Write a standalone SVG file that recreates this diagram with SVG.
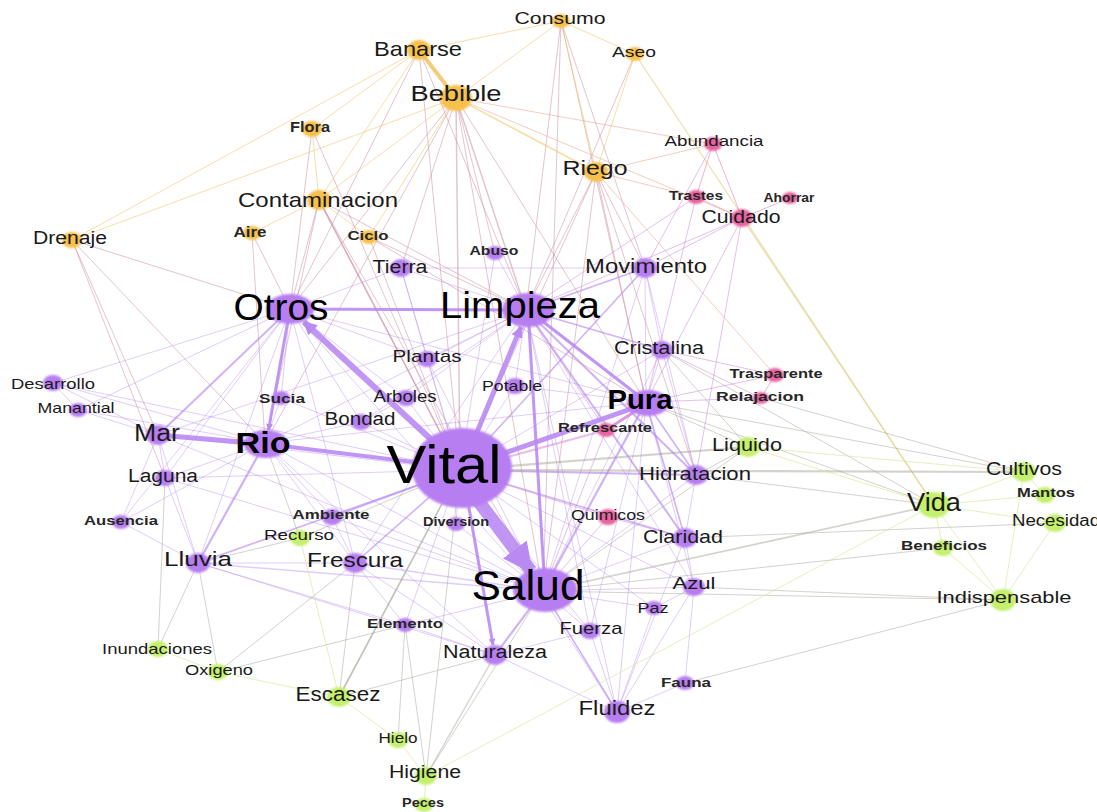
<svg xmlns="http://www.w3.org/2000/svg" width="1097" height="812" viewBox="0 0 1097 812">
<defs>
<style>
.pp{stroke:#b487f0;stroke-opacity:.42;stroke-width:1}
.pm{stroke:#b07ff0;stroke-opacity:.6;stroke-width:1.6}
.pt{stroke:#b98af2;stroke-opacity:.9;fill:none}
.pk{stroke:#d07fd4;stroke-opacity:.5;stroke-width:1}
.kk{stroke:#e57fb4;stroke-opacity:.6;stroke-width:1}
.op{stroke:#c98a9e;stroke-opacity:.5;stroke-width:1}
.oo{stroke:#f1c261;stroke-opacity:.55;stroke-width:1}
.ok{stroke:#eaa48c;stroke-opacity:.55;stroke-width:1}
.og{stroke:#ddcc78;stroke-opacity:.6;stroke-width:1.2}
.pg{stroke:#aaa698;stroke-opacity:.5;stroke-width:1}
.gg{stroke:#cde78f;stroke-opacity:.6;stroke-width:1}
ellipse{filter:url(#soft)}
.cP{fill:#b77ef2}
.cO{fill:#f6c04c}
.cK{fill:#e8649f}
.cG{fill:#c4f06c}
text{font-family:"Liberation Sans",Arial,sans-serif;fill:#1a1a1a;text-anchor:middle}
.b{font-weight:bold;fill:#262626}
.big{fill:#000}
</style>
<filter id="soft" x="-30%" y="-30%" width="160%" height="160%"><feGaussianBlur stdDeviation="0.9"/></filter>
<marker id="arr" viewBox="0 0 10 10" refX="9" refY="5" markerWidth="2.3" markerHeight="2.3" orient="auto" markerUnits="strokeWidth"><path d="M0,0 L10,5 L0,10 z" fill="#b98af2"/></marker>
</defs>
<rect width="1097" height="812" fill="#ffffff"/>
<g id="connectors">
<line class="pp" x1="460" y1="470" x2="427" y2="359"/>
<line class="pp" x1="460" y1="470" x2="406" y2="398"/>
<line class="pp" x1="460" y1="470" x2="361" y2="422"/>
<line class="pp" x1="460" y1="470" x2="515" y2="386"/>
<line class="pp" x1="460" y1="470" x2="694" y2="587"/>
<line class="pp" x1="460" y1="470" x2="456" y2="524"/>
<line class="pp" x1="460" y1="470" x2="662" y2="350"/>
<line class="pp" x1="460" y1="470" x2="158" y2="435"/>
<line class="pp" x1="460" y1="470" x2="165" y2="478"/>
<line class="pp" x1="460" y1="470" x2="590" y2="631"/>
<line class="pp" x1="460" y1="470" x2="617" y2="712"/>
<line class="pp" x1="460" y1="470" x2="401" y2="268"/>
<line class="pp" x1="460" y1="470" x2="495" y2="253"/>
<line class="pp" x1="460" y1="470" x2="281" y2="398"/>
<line class="pp" x1="460" y1="470" x2="405" y2="625"/>
<line class="pp" x1="460" y1="470" x2="654" y2="608"/>
<line class="pp" x1="460" y1="470" x2="53" y2="383"/>
<line class="pp" x1="290" y1="309" x2="281" y2="398"/>
<line class="pp" x1="290" y1="309" x2="53" y2="383"/>
<line class="pp" x1="290" y1="309" x2="78" y2="410"/>
<line class="pp" x1="290" y1="309" x2="427" y2="359"/>
<line class="pp" x1="290" y1="309" x2="361" y2="422"/>
<line class="pp" x1="290" y1="309" x2="401" y2="268"/>
<line class="pp" x1="290" y1="309" x2="198" y2="563"/>
<line class="pp" x1="290" y1="309" x2="540" y2="592"/>
<line class="pp" x1="290" y1="309" x2="645" y2="402"/>
<line class="pp" x1="290" y1="309" x2="406" y2="398"/>
<line class="pp" x1="290" y1="309" x2="165" y2="478"/>
<line class="pp" x1="290" y1="309" x2="121" y2="522"/>
<line class="pp" x1="290" y1="309" x2="355" y2="563"/>
<line class="pp" x1="526" y1="310" x2="515" y2="386"/>
<line class="pp" x1="526" y1="310" x2="401" y2="268"/>
<line class="pp" x1="526" y1="310" x2="495" y2="253"/>
<line class="pp" x1="526" y1="310" x2="427" y2="359"/>
<line class="pp" x1="526" y1="310" x2="694" y2="587"/>
<line class="pp" x1="526" y1="310" x2="265" y2="443"/>
<line class="pp" x1="526" y1="310" x2="355" y2="563"/>
<line class="pp" x1="526" y1="310" x2="406" y2="398"/>
<line class="pp" x1="526" y1="310" x2="158" y2="435"/>
<line class="pp" x1="526" y1="310" x2="617" y2="712"/>
<line class="pp" x1="526" y1="310" x2="590" y2="631"/>
<line class="pp" x1="526" y1="310" x2="361" y2="422"/>
<line class="pp" x1="543" y1="591" x2="590" y2="631"/>
<line class="pp" x1="543" y1="591" x2="654" y2="608"/>
<line class="pp" x1="543" y1="591" x2="694" y2="587"/>
<line class="pp" x1="543" y1="591" x2="685" y2="538"/>
<line class="pp" x1="543" y1="591" x2="696" y2="475"/>
<line class="pp" x1="543" y1="591" x2="405" y2="625"/>
<line class="pp" x1="543" y1="591" x2="265" y2="443"/>
<line class="pp" x1="543" y1="591" x2="332" y2="517"/>
<line class="pp" x1="543" y1="591" x2="645" y2="268"/>
<line class="pp" x1="543" y1="591" x2="662" y2="350"/>
<line class="pp" x1="543" y1="591" x2="456" y2="524"/>
<line class="pp" x1="543" y1="591" x2="158" y2="435"/>
<line class="pp" x1="543" y1="591" x2="165" y2="478"/>
<line class="pp" x1="543" y1="591" x2="427" y2="359"/>
<line class="pp" x1="646" y1="402" x2="662" y2="350"/>
<line class="pp" x1="646" y1="402" x2="645" y2="268"/>
<line class="pp" x1="646" y1="402" x2="694" y2="587"/>
<line class="pp" x1="646" y1="402" x2="590" y2="631"/>
<line class="pp" x1="646" y1="402" x2="617" y2="712"/>
<line class="pp" x1="646" y1="402" x2="515" y2="386"/>
<line class="pp" x1="646" y1="402" x2="265" y2="443"/>
<line class="pp" x1="265" y1="443" x2="281" y2="398"/>
<line class="pp" x1="265" y1="443" x2="165" y2="478"/>
<line class="pp" x1="265" y1="443" x2="355" y2="563"/>
<line class="pp" x1="265" y1="443" x2="332" y2="517"/>
<line class="pp" x1="265" y1="443" x2="361" y2="422"/>
<line class="pp" x1="265" y1="443" x2="53" y2="383"/>
<line class="pp" x1="265" y1="443" x2="78" y2="410"/>
<line class="pp" x1="265" y1="443" x2="121" y2="522"/>
<line class="pp" x1="265" y1="443" x2="495" y2="655"/>
<line class="pp" x1="158" y1="435" x2="78" y2="410"/>
<line class="pp" x1="158" y1="435" x2="53" y2="383"/>
<line class="pp" x1="158" y1="435" x2="165" y2="478"/>
<line class="pp" x1="158" y1="435" x2="198" y2="563"/>
<line class="pp" x1="158" y1="435" x2="121" y2="522"/>
<line class="pp" x1="198" y1="563" x2="165" y2="478"/>
<line class="pp" x1="198" y1="563" x2="355" y2="563"/>
<line class="pp" x1="198" y1="563" x2="121" y2="522"/>
<line class="pp" x1="198" y1="563" x2="495" y2="655"/>
<line class="pp" x1="198" y1="563" x2="405" y2="625"/>
<line class="pp" x1="355" y1="563" x2="495" y2="655"/>
<line class="pp" x1="355" y1="563" x2="405" y2="625"/>
<line class="pp" x1="355" y1="563" x2="332" y2="517"/>
<line class="pp" x1="495" y1="655" x2="617" y2="712"/>
<line class="pp" x1="495" y1="655" x2="590" y2="631"/>
<line class="pp" x1="495" y1="655" x2="405" y2="625"/>
<line class="pp" x1="617" y1="712" x2="685" y2="683"/>
<line class="pp" x1="617" y1="712" x2="694" y2="587"/>
<line class="pp" x1="617" y1="712" x2="654" y2="608"/>
<line class="pp" x1="617" y1="712" x2="590" y2="631"/>
<line class="pp" x1="617" y1="712" x2="685" y2="538"/>
<line class="pp" x1="694" y1="587" x2="685" y2="683"/>
<line class="pp" x1="694" y1="587" x2="654" y2="608"/>
<line class="pp" x1="694" y1="587" x2="685" y2="538"/>
<line class="pp" x1="696" y1="475" x2="685" y2="538"/>
<line class="pp" x1="696" y1="475" x2="662" y2="350"/>
<line class="pp" x1="696" y1="475" x2="645" y2="268"/>
<line class="pp" x1="645" y1="268" x2="662" y2="350"/>
<line class="pp" x1="645" y1="268" x2="401" y2="268"/>
<line class="pp" x1="427" y1="359" x2="401" y2="268"/>
<line class="pp" x1="406" y1="398" x2="361" y2="422"/>
<line class="pp" x1="53" y1="383" x2="78" y2="410"/>
<line class="pp" x1="355" y1="563" x2="543" y2="591" style="stroke-width:1.5"/>
<line class="pp" x1="198" y1="563" x2="543" y2="591" style="stroke-width:1.5"/>
<line class="pm" x1="460" y1="470" x2="696" y2="475" style="stroke-width:2"/>
<line class="pm" x1="460" y1="470" x2="685" y2="538"/>
<line class="pm" x1="460" y1="470" x2="355" y2="563"/>
<line class="pm" x1="460" y1="470" x2="198" y2="563"/>
<line class="pm" x1="460" y1="470" x2="332" y2="517"/>
<line class="pm" x1="460" y1="470" x2="645" y2="268"/>
<line class="pm" x1="526" y1="310" x2="645" y2="268"/>
<line class="pm" x1="526" y1="310" x2="662" y2="350"/>
<line class="pm" x1="526" y1="310" x2="685" y2="538" style="stroke-width:2"/>
<line class="pm" x1="526" y1="310" x2="696" y2="475" style="stroke-width:2"/>
<line class="pm" x1="646" y1="402" x2="696" y2="475"/>
<line class="pm" x1="646" y1="402" x2="685" y2="538"/>
<line class="pm" x1="543" y1="591" x2="617" y2="712"/>
<line class="pm" x1="543" y1="591" x2="646" y2="402" style="stroke-width:2.2"/>
<line class="pm" x1="265" y1="443" x2="198" y2="563" style="stroke-width:2.2"/>
<line class="pm" x1="290" y1="309" x2="158" y2="435" style="stroke-width:2"/>
<line class="pm" x1="543" y1="591" x2="495" y2="655" style="stroke-width:2.2"/>
<line class="pk" x1="460" y1="470" x2="606" y2="430" style="stroke-width:2"/>
<line class="pk" x1="646" y1="402" x2="761" y2="398"/>
<line class="pk" x1="646" y1="402" x2="775" y2="375"/>
<line class="pk" x1="526" y1="310" x2="742" y2="218"/>
<line class="pk" x1="645" y1="268" x2="742" y2="218"/>
<line class="pk" x1="543" y1="591" x2="608" y2="517"/>
<line class="pk" x1="460" y1="470" x2="608" y2="517"/>
<line class="pk" x1="608" y1="517" x2="685" y2="538"/>
<line class="pk" x1="606" y1="430" x2="543" y2="591"/>
<line class="pk" x1="662" y1="350" x2="775" y2="375"/>
<line class="pk" x1="713" y1="144" x2="645" y2="268"/>
<line class="pk" x1="696" y1="197" x2="646" y2="402"/>
<line class="pk" x1="696" y1="197" x2="526" y2="310"/>
<line class="pk" x1="742" y1="218" x2="696" y2="475"/>
<line class="pk" x1="606" y1="430" x2="526" y2="310"/>
<line class="pk" x1="761" y1="398" x2="662" y2="350"/>
<line class="pk" x1="742" y1="218" x2="646" y2="402"/>
<line class="kk" x1="713" y1="144" x2="696" y2="197"/>
<line class="kk" x1="713" y1="144" x2="742" y2="218"/>
<line class="kk" x1="696" y1="197" x2="742" y2="218"/>
<line class="kk" x1="790" y1="198" x2="742" y2="218"/>
<line class="kk" x1="775" y1="375" x2="761" y2="398"/>
<line class="op" x1="456" y1="98" x2="526" y2="310" style="stroke-width:1.5"/>
<line class="op" x1="456" y1="98" x2="460" y2="470" style="stroke-width:1.5"/>
<line class="op" x1="456" y1="98" x2="290" y2="309"/>
<line class="op" x1="456" y1="98" x2="543" y2="591"/>
<line class="op" x1="456" y1="98" x2="646" y2="402"/>
<line class="op" x1="456" y1="98" x2="265" y2="443"/>
<line class="op" x1="456" y1="98" x2="495" y2="253"/>
<line class="op" x1="456" y1="98" x2="401" y2="268"/>
<line class="op" x1="419" y1="50" x2="290" y2="309"/>
<line class="op" x1="419" y1="50" x2="526" y2="310"/>
<line class="op" x1="419" y1="50" x2="460" y2="470"/>
<line class="op" x1="561" y1="21" x2="526" y2="310"/>
<line class="op" x1="561" y1="21" x2="645" y2="268"/>
<line class="op" x1="561" y1="21" x2="543" y2="591"/>
<line class="op" x1="561" y1="21" x2="646" y2="402"/>
<line class="op" x1="596" y1="172" x2="526" y2="310"/>
<line class="op" x1="596" y1="172" x2="646" y2="402"/>
<line class="op" x1="596" y1="172" x2="460" y2="470"/>
<line class="op" x1="596" y1="172" x2="543" y2="591"/>
<line class="op" x1="596" y1="172" x2="645" y2="268"/>
<line class="op" x1="596" y1="172" x2="696" y2="475"/>
<line class="op" x1="319" y1="200" x2="290" y2="309"/>
<line class="op" x1="319" y1="200" x2="460" y2="470" style="stroke-width:1.6;stroke-opacity:.7"/>
<line class="op" x1="319" y1="200" x2="265" y2="443"/>
<line class="op" x1="319" y1="200" x2="526" y2="310"/>
<line class="op" x1="319" y1="200" x2="543" y2="591"/>
<line class="op" x1="312" y1="129" x2="290" y2="309"/>
<line class="op" x1="312" y1="129" x2="460" y2="470"/>
<line class="op" x1="369" y1="237" x2="460" y2="470"/>
<line class="op" x1="369" y1="237" x2="526" y2="310"/>
<line class="op" x1="369" y1="237" x2="646" y2="402"/>
<line class="op" x1="252" y1="233" x2="290" y2="309"/>
<line class="op" x1="252" y1="233" x2="265" y2="443"/>
<line class="op" x1="72" y1="240" x2="158" y2="435"/>
<line class="op" x1="72" y1="240" x2="265" y2="443"/>
<line class="op" x1="72" y1="240" x2="290" y2="309"/>
<line class="op" x1="72" y1="240" x2="165" y2="478"/>
<line class="op" x1="635" y1="54" x2="526" y2="310"/>
<line class="oo" x1="419" y1="50" x2="456" y2="98" style="stroke-width:4;stroke-opacity:.85"/>
<line class="oo" x1="561" y1="21" x2="419" y2="50"/>
<line class="oo" x1="561" y1="21" x2="456" y2="98"/>
<line class="oo" x1="561" y1="21" x2="635" y2="54"/>
<line class="oo" x1="561" y1="21" x2="596" y2="172"/>
<line class="oo" x1="419" y1="50" x2="312" y2="129"/>
<line class="oo" x1="419" y1="50" x2="72" y2="240"/>
<line class="oo" x1="456" y1="98" x2="72" y2="240"/>
<line class="oo" x1="456" y1="98" x2="596" y2="172" style="stroke-width:1.6"/>
<line class="oo" x1="456" y1="98" x2="319" y2="200"/>
<line class="oo" x1="312" y1="129" x2="319" y2="200"/>
<line class="oo" x1="319" y1="200" x2="369" y2="237"/>
<line class="oo" x1="319" y1="200" x2="252" y2="233"/>
<line class="oo" x1="419" y1="50" x2="319" y2="200"/>
<line class="oo" x1="635" y1="54" x2="596" y2="172"/>
<line class="oo" x1="456" y1="98" x2="369" y2="237"/>
<line class="ok" x1="596" y1="172" x2="713" y2="144"/>
<line class="ok" x1="596" y1="172" x2="696" y2="197"/>
<line class="ok" x1="456" y1="98" x2="713" y2="144"/>
<line class="ok" x1="456" y1="98" x2="742" y2="218"/>
<line class="ok" x1="596" y1="172" x2="775" y2="375"/>
<line class="og" x1="635" y1="54" x2="934" y2="505"/>
<line class="og" x1="742" y1="218" x2="934" y2="505"/>
<line class="pg" x1="460" y1="470" x2="1024" y2="472" style="stroke-width:2.2"/>
<line class="pg" x1="460" y1="470" x2="748" y2="447" style="stroke-width:2.2"/>
<line class="pg" x1="543" y1="591" x2="934" y2="505" style="stroke-width:1.6"/>
<line class="pg" x1="748" y1="447" x2="646" y2="402"/>
<line class="pg" x1="748" y1="447" x2="696" y2="475"/>
<line class="pg" x1="748" y1="447" x2="543" y2="591"/>
<line class="pg" x1="646" y1="402" x2="934" y2="505"/>
<line class="pg" x1="662" y1="350" x2="934" y2="505"/>
<line class="pg" x1="543" y1="591" x2="1003" y2="600"/>
<line class="pg" x1="694" y1="587" x2="1003" y2="600"/>
<line class="pg" x1="685" y1="683" x2="1003" y2="600"/>
<line class="pg" x1="339" y1="697" x2="460" y2="470" style="stroke-width:1.6;stroke-opacity:.7"/>
<line class="pg" x1="339" y1="697" x2="355" y2="563"/>
<line class="pg" x1="339" y1="697" x2="495" y2="655"/>
<line class="pg" x1="426" y1="776" x2="495" y2="655" style="stroke-width:1.3"/>
<line class="pg" x1="426" y1="776" x2="405" y2="625"/>
<line class="pg" x1="398" y1="740" x2="405" y2="625"/>
<line class="pg" x1="158" y1="649" x2="198" y2="563"/>
<line class="pg" x1="158" y1="649" x2="165" y2="478"/>
<line class="pg" x1="218" y1="672" x2="198" y2="563"/>
<line class="pg" x1="218" y1="672" x2="405" y2="625"/>
<line class="pg" x1="218" y1="672" x2="355" y2="563"/>
<line class="pg" x1="300" y1="538" x2="460" y2="470"/>
<line class="pg" x1="300" y1="538" x2="198" y2="563"/>
<line class="pg" x1="300" y1="538" x2="265" y2="443"/>
<line class="pg" x1="943" y1="548" x2="543" y2="591"/>
<line class="pg" x1="1055" y1="523" x2="685" y2="538"/>
<line class="pg" x1="646" y1="402" x2="1024" y2="472"/>
<line class="pg" x1="426" y1="776" x2="460" y2="470"/>
<line class="pg" x1="761" y1="398" x2="1024" y2="472"/>
<line class="pg" x1="934" y1="505" x2="696" y2="475"/>
<line class="pg" x1="748" y1="447" x2="662" y2="350"/>
<line class="pg" x1="426" y1="776" x2="543" y2="591"/>
<line class="gg" x1="339" y1="697" x2="398" y2="740"/>
<line class="gg" x1="398" y1="740" x2="426" y2="776"/>
<line class="gg" x1="426" y1="776" x2="424" y2="805"/>
<line class="gg" x1="339" y1="697" x2="218" y2="672"/>
<line class="gg" x1="158" y1="649" x2="218" y2="672"/>
<line class="gg" x1="934" y1="505" x2="1024" y2="472"/>
<line class="gg" x1="934" y1="505" x2="1045" y2="495"/>
<line class="gg" x1="934" y1="505" x2="1055" y2="523"/>
<line class="gg" x1="934" y1="505" x2="943" y2="548"/>
<line class="gg" x1="934" y1="505" x2="1003" y2="600"/>
<line class="gg" x1="943" y1="548" x2="1003" y2="600"/>
<line class="gg" x1="1055" y1="523" x2="1003" y2="600"/>
<line class="gg" x1="1024" y1="472" x2="1003" y2="600"/>
<line class="gg" x1="426" y1="776" x2="934" y2="505"/>
<line class="gg" x1="748" y1="447" x2="934" y2="505"/>
<line class="gg" x1="748" y1="447" x2="1024" y2="472"/>
<line class="gg" x1="339" y1="697" x2="300" y2="538"/>
<line class="gg" x1="1024" y1="472" x2="1045" y2="495"/>
<line class="pt" x1="462" y1="468" x2="266" y2="444" style="stroke-width:4"/>
<line class="pt" x1="462" y1="468" x2="648" y2="403" style="stroke-width:5"/>
<line class="pt" x1="290" y1="309" x2="528" y2="310" style="stroke-width:3"/>
<line class="pt" x1="158" y1="435" x2="266" y2="444" style="stroke-width:5"/>
<line class="pt" x1="528" y1="310" x2="545" y2="590" style="stroke-width:3"/>
<line class="pt" x1="528" y1="310" x2="648" y2="403" style="stroke-width:3"/>
<line class="pk" x1="648" y1="403" x2="606" y2="430" style="stroke-width:3;stroke-opacity:.8"/>
<line class="pt" x1="462" y1="468" x2="521" y2="327" style="stroke-width:5" marker-end="url(#arr)"/>
<line class="pt" x1="462" y1="468" x2="304" y2="322" style="stroke-width:6" marker-end="url(#arr)"/>
<line class="pt" x1="290" y1="309" x2="268.5" y2="430" style="stroke-width:3" marker-end="url(#arr)"/>
<line class="pt" x1="462" y1="468" x2="493" y2="645" style="stroke-width:3" marker-end="url(#arr)"/>
<line class="pt" x1="470" y1="490" x2="531" y2="571" style="stroke-width:13" marker-end="url(#arr)"/>
</g>
<g id="n-vital"><ellipse class="cP" cx="462" cy="468" rx="50" ry="40"/><text class="big" x="444" y="483" font-size="54" textLength="115" lengthAdjust="spacingAndGlyphs">Vital</text></g>
<g id="n-salud"><ellipse class="cP" cx="545" cy="590" rx="32" ry="22"/><text class="big" x="528" y="600" font-size="42" textLength="113" lengthAdjust="spacingAndGlyphs">Salud</text></g>
<g id="n-limpieza"><ellipse class="cP" cx="528" cy="310" rx="26" ry="17"/><text class="big" x="520" y="318" font-size="36" textLength="160" lengthAdjust="spacingAndGlyphs">Limpieza</text></g>
<g id="n-otros"><ellipse class="cP" cx="290" cy="309" rx="24" ry="15"/><text class="big" x="281" y="320" font-size="36" textLength="95" lengthAdjust="spacingAndGlyphs">Otros</text></g>
<g id="n-pura"><ellipse class="cP" cx="648" cy="403" rx="21" ry="13"/><text class="b big" x="640" y="409" font-size="28" textLength="65" lengthAdjust="spacingAndGlyphs">Pura</text></g>
<g id="n-rio"><ellipse class="cP" cx="266" cy="444" rx="22" ry="14"/><text class="b big" x="263" y="453" font-size="29" textLength="55" lengthAdjust="spacingAndGlyphs">Rio</text></g>
<g id="n-bebible"><ellipse class="cO" cx="456" cy="98" rx="16" ry="13"/><text x="456" y="101" font-size="22" textLength="91" lengthAdjust="spacingAndGlyphs">Bebible</text></g>
<g id="n-vida"><ellipse class="cG" cx="934" cy="505" rx="16" ry="13"/><text x="934" y="511" font-size="26" textLength="54" lengthAdjust="spacingAndGlyphs">Vida</text></g>
<g id="n-consumo"><ellipse class="cO" cx="561" cy="21" rx="9" ry="7"/><text x="560" y="24" font-size="17" textLength="91" lengthAdjust="spacingAndGlyphs">Consumo</text></g>
<g id="n-banarse"><ellipse class="cO" cx="419" cy="50" rx="12" ry="10"/><text x="418" y="55.5" font-size="21" textLength="88" lengthAdjust="spacingAndGlyphs">Banarse</text></g>
<g id="n-aseo"><ellipse class="cO" cx="635" cy="54" rx="9" ry="7"/><text x="634" y="57" font-size="15" textLength="44" lengthAdjust="spacingAndGlyphs">Aseo</text></g>
<g id="n-flora"><ellipse class="cO" cx="312" cy="129" rx="10" ry="8"/><text class="b" x="310" y="132" font-size="14" textLength="40" lengthAdjust="spacingAndGlyphs">Flora</text></g>
<g id="n-abundancia"><ellipse class="cK" cx="713" cy="144" rx="9" ry="7"/><text x="714" y="146" font-size="15" textLength="99" lengthAdjust="spacingAndGlyphs">Abundancia</text></g>
<g id="n-riego"><ellipse class="cO" cx="596" cy="172" rx="12" ry="10"/><text x="595" y="174.5" font-size="21" textLength="65" lengthAdjust="spacingAndGlyphs">Riego</text></g>
<g id="n-contaminacion"><ellipse class="cO" cx="319" cy="200" rx="12" ry="10"/><text x="318" y="206.5" font-size="21" textLength="160" lengthAdjust="spacingAndGlyphs">Contaminacion</text></g>
<g id="n-trastes"><ellipse class="cK" cx="696" cy="197" rx="9" ry="7"/><text class="b" x="696" y="199.5" font-size="13" textLength="54" lengthAdjust="spacingAndGlyphs">Trastes</text></g>
<g id="n-ahorrar"><ellipse class="cK" cx="790" cy="198" rx="8" ry="6"/><text class="b" x="789" y="201.5" font-size="13" textLength="51" lengthAdjust="spacingAndGlyphs">Ahorrar</text></g>
<g id="n-cuidado"><ellipse class="cK" cx="742" cy="218" rx="11" ry="9"/><text x="741" y="222.5" font-size="18" textLength="79" lengthAdjust="spacingAndGlyphs">Cuidado</text></g>
<g id="n-drenaje"><ellipse class="cO" cx="72" cy="240" rx="10" ry="8"/><text x="70" y="243.5" font-size="18" textLength="74" lengthAdjust="spacingAndGlyphs">Drenaje</text></g>
<g id="n-aire"><ellipse class="cO" cx="252" cy="233" rx="9" ry="7"/><text class="b" x="250" y="237" font-size="14" textLength="33" lengthAdjust="spacingAndGlyphs">Aire</text></g>
<g id="n-ciclo"><ellipse class="cO" cx="369" cy="237" rx="9" ry="7"/><text class="b" x="368" y="239.5" font-size="13" textLength="41" lengthAdjust="spacingAndGlyphs">Ciclo</text></g>
<g id="n-abuso"><ellipse class="cP" cx="495" cy="253" rx="9" ry="7"/><text class="b" x="494" y="254.5" font-size="13" textLength="49" lengthAdjust="spacingAndGlyphs">Abuso</text></g>
<g id="n-tierra"><ellipse class="cP" cx="401" cy="268" rx="11" ry="9"/><text x="400" y="272.5" font-size="18" textLength="55" lengthAdjust="spacingAndGlyphs">Tierra</text></g>
<g id="n-movimiento"><ellipse class="cP" cx="645" cy="268" rx="12" ry="10"/><text x="646" y="273" font-size="20" textLength="122" lengthAdjust="spacingAndGlyphs">Movimiento</text></g>
<g id="n-plantas"><ellipse class="cP" cx="427" cy="359" rx="10" ry="8"/><text x="427" y="362" font-size="17" textLength="69" lengthAdjust="spacingAndGlyphs">Plantas</text></g>
<g id="n-cristalina"><ellipse class="cP" cx="662" cy="350" rx="11" ry="9"/><text x="659" y="354" font-size="19" textLength="90" lengthAdjust="spacingAndGlyphs">Cristalina</text></g>
<g id="n-trasparente"><ellipse class="cK" cx="775" cy="375" rx="9" ry="7"/><text class="b" x="776" y="377.5" font-size="13" textLength="93" lengthAdjust="spacingAndGlyphs">Trasparente</text></g>
<g id="n-desarrollo"><ellipse class="cP" cx="53" cy="383" rx="10" ry="8"/><text x="53" y="388.5" font-size="15" textLength="84" lengthAdjust="spacingAndGlyphs">Desarrollo</text></g>
<g id="n-relajacion"><ellipse class="cK" cx="761" cy="398" rx="8" ry="6"/><text class="b" x="760" y="400.5" font-size="13" textLength="88" lengthAdjust="spacingAndGlyphs">Relajacion</text></g>
<g id="n-potable"><ellipse class="cP" cx="515" cy="386" rx="10" ry="8"/><text x="512" y="390.5" font-size="15" textLength="60" lengthAdjust="spacingAndGlyphs">Potable</text></g>
<g id="n-arboles"><ellipse class="cP" cx="406" cy="398" rx="10" ry="8"/><text x="405" y="402" font-size="16" textLength="63" lengthAdjust="spacingAndGlyphs">Arboles</text></g>
<g id="n-manantial"><ellipse class="cP" cx="78" cy="410" rx="9" ry="7"/><text x="76" y="412.5" font-size="15" textLength="77" lengthAdjust="spacingAndGlyphs">Manantial</text></g>
<g id="n-sucia"><ellipse class="cP" cx="281" cy="398" rx="9" ry="7"/><text class="b" x="282" y="402.5" font-size="13" textLength="46" lengthAdjust="spacingAndGlyphs">Sucia</text></g>
<g id="n-bondad"><ellipse class="cP" cx="361" cy="422" rx="10" ry="8"/><text x="360" y="424.5" font-size="18" textLength="71" lengthAdjust="spacingAndGlyphs">Bondad</text></g>
<g id="n-refrescante"><ellipse class="cK" cx="606" cy="430" rx="9" ry="7"/><text class="b" x="605" y="431.5" font-size="13" textLength="94" lengthAdjust="spacingAndGlyphs">Refrescante</text></g>
<g id="n-mar"><ellipse class="cP" cx="158" cy="435" rx="12" ry="10"/><text x="157" y="440.5" font-size="23" textLength="46" lengthAdjust="spacingAndGlyphs">Mar</text></g>
<g id="n-liquido"><ellipse class="cG" cx="748" cy="447" rx="12" ry="10"/><text x="747" y="451" font-size="19" textLength="70" lengthAdjust="spacingAndGlyphs">Liquido</text></g>
<g id="n-hidratacion"><ellipse class="cP" cx="696" cy="475" rx="12" ry="10"/><text x="695" y="480" font-size="19" textLength="112" lengthAdjust="spacingAndGlyphs">Hidratacion</text></g>
<g id="n-cultivos"><ellipse class="cG" cx="1024" cy="472" rx="12" ry="10"/><text x="1024" y="474.5" font-size="18" textLength="76" lengthAdjust="spacingAndGlyphs">Cultivos</text></g>
<g id="n-laguna"><ellipse class="cP" cx="165" cy="478" rx="10" ry="8"/><text x="163" y="481.5" font-size="18" textLength="70" lengthAdjust="spacingAndGlyphs">Laguna</text></g>
<g id="n-mantos"><ellipse class="cG" cx="1045" cy="495" rx="10" ry="8"/><text class="b" x="1046" y="496.5" font-size="13" textLength="58" lengthAdjust="spacingAndGlyphs">Mantos</text></g>
<g id="n-ausencia"><ellipse class="cP" cx="121" cy="522" rx="9" ry="7"/><text class="b" x="121" y="524.5" font-size="13" textLength="74" lengthAdjust="spacingAndGlyphs">Ausencia</text></g>
<g id="n-ambiente"><ellipse class="cP" cx="332" cy="517" rx="10" ry="8"/><text class="b" x="331" y="518.5" font-size="13" textLength="77" lengthAdjust="spacingAndGlyphs">Ambiente</text></g>
<g id="n-diversion"><ellipse class="cP" cx="456" cy="524" rx="9" ry="7"/><text class="b" x="456" y="525.5" font-size="13" textLength="66" lengthAdjust="spacingAndGlyphs">Diversion</text></g>
<g id="n-quimicos"><ellipse class="cK" cx="608" cy="517" rx="10" ry="8"/><text x="608" y="519.5" font-size="15" textLength="74" lengthAdjust="spacingAndGlyphs">Quimicos</text></g>
<g id="n-necesidad"><ellipse class="cG" cx="1055" cy="523" rx="11" ry="9"/><text x="1056" y="525.5" font-size="16" textLength="88" lengthAdjust="spacingAndGlyphs">Necesidad</text></g>
<g id="n-recurso"><ellipse class="cG" cx="300" cy="538" rx="10" ry="8"/><text x="299" y="539.5" font-size="15" textLength="70" lengthAdjust="spacingAndGlyphs">Recurso</text></g>
<g id="n-claridad"><ellipse class="cP" cx="685" cy="538" rx="12" ry="10"/><text x="683" y="543" font-size="19" textLength="80" lengthAdjust="spacingAndGlyphs">Claridad</text></g>
<g id="n-beneficios"><ellipse class="cG" cx="943" cy="548" rx="10" ry="8"/><text class="b" x="944" y="549.5" font-size="13" textLength="86" lengthAdjust="spacingAndGlyphs">Beneficios</text></g>
<g id="n-lluvia"><ellipse class="cP" cx="198" cy="563" rx="12" ry="10"/><text x="198" y="565.5" font-size="21" textLength="68" lengthAdjust="spacingAndGlyphs">Lluvia</text></g>
<g id="n-frescura"><ellipse class="cP" cx="355" cy="563" rx="12" ry="10"/><text x="355" y="567" font-size="20" textLength="96" lengthAdjust="spacingAndGlyphs">Frescura</text></g>
<g id="n-azul"><ellipse class="cP" cx="694" cy="587" rx="11" ry="9"/><text x="694" y="589" font-size="17" textLength="43" lengthAdjust="spacingAndGlyphs">Azul</text></g>
<g id="n-paz"><ellipse class="cP" cx="654" cy="608" rx="9" ry="7"/><text x="653" y="612.5" font-size="15" textLength="31" lengthAdjust="spacingAndGlyphs">Paz</text></g>
<g id="n-indispensable"><ellipse class="cG" cx="1003" cy="600" rx="13" ry="11"/><text x="1004" y="602.5" font-size="17" textLength="135" lengthAdjust="spacingAndGlyphs">Indispensable</text></g>
<g id="n-elemento"><ellipse class="cP" cx="405" cy="625" rx="9" ry="7"/><text class="b" x="405" y="627.5" font-size="13" textLength="76" lengthAdjust="spacingAndGlyphs">Elemento</text></g>
<g id="n-fuerza"><ellipse class="cP" cx="590" cy="631" rx="10" ry="8"/><text x="591" y="634" font-size="17" textLength="63" lengthAdjust="spacingAndGlyphs">Fuerza</text></g>
<g id="n-naturaleza"><ellipse class="cP" cx="495" cy="655" rx="12" ry="10"/><text x="495" y="657.5" font-size="18" textLength="104" lengthAdjust="spacingAndGlyphs">Naturaleza</text></g>
<g id="n-inundaciones"><ellipse class="cG" cx="158" cy="649" rx="10" ry="8"/><text x="157" y="653.5" font-size="15" textLength="110" lengthAdjust="spacingAndGlyphs">Inundaciones</text></g>
<g id="n-oxigeno"><ellipse class="cG" cx="218" cy="672" rx="10" ry="8"/><text x="219" y="675" font-size="15" textLength="68" lengthAdjust="spacingAndGlyphs">Oxigeno</text></g>
<g id="n-fauna"><ellipse class="cP" cx="685" cy="683" rx="9" ry="7"/><text class="b" x="686" y="686.5" font-size="13" textLength="50" lengthAdjust="spacingAndGlyphs">Fauna</text></g>
<g id="n-escasez"><ellipse class="cG" cx="339" cy="697" rx="12" ry="10"/><text x="338" y="701" font-size="20" textLength="85" lengthAdjust="spacingAndGlyphs">Escasez</text></g>
<g id="n-fluidez"><ellipse class="cP" cx="617" cy="712" rx="13" ry="11"/><text x="617" y="715" font-size="20" textLength="77" lengthAdjust="spacingAndGlyphs">Fluidez</text></g>
<g id="n-hielo"><ellipse class="cG" cx="398" cy="740" rx="10" ry="8"/><text x="398" y="742.5" font-size="15" textLength="39" lengthAdjust="spacingAndGlyphs">Hielo</text></g>
<g id="n-higiene"><ellipse class="cG" cx="426" cy="776" rx="11" ry="9"/><text x="425" y="777.5" font-size="18" textLength="72" lengthAdjust="spacingAndGlyphs">Higiene</text></g>
<g id="n-peces"><ellipse class="cG" cx="424" cy="805" rx="9" ry="7"/><text class="b" x="423" y="806.5" font-size="13" textLength="42" lengthAdjust="spacingAndGlyphs">Peces</text></g>
</svg>
